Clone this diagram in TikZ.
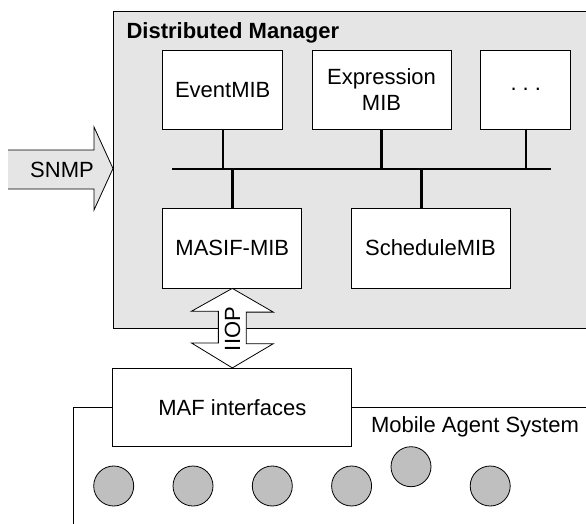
\documentclass[tikz,border=0pt]{standalone}
\usepackage{fontspec}
\setmainfont{Liberation Sans}
\usetikzlibrary{positioning, calc}

\definecolor{panelgray}{gray}{0.9}
\definecolor{agentgray}{gray}{0.75}

\begin{document}
\begin{tikzpicture}[x=1pt, y=-1pt,
    every node/.style={font=\fontsize{22}{26}\selectfont},
    mibbox/.style={draw=black, fill=white, line width=0.8pt, inner sep=0pt, align=center, minimum height=79pt},
    agent/.style={circle, draw=black, fill=agentgray, line width=0.8pt, minimum size=40pt, inner sep=0pt},
    busline/.style={line width=2.4pt},
    blockarrow/.style={draw=black, line width=0.8pt, line join=miter}]
        \useasboundingbox (0,0) rectangle (586,524);
        \clip (0,0) rectangle (586,524);

        % Distributed Manager panel (runs off the right edge)
        \node[draw=black, fill=panelgray, line width=0.8pt, inner sep=0pt, anchor=north west,
              minimum width=500pt, minimum height=317pt] (dm) at (113,11) {};
        \node[anchor=base west, font=\fontsize{22}{26}\selectfont\bfseries] (dmtitle) at (123,39) {Distributed Manager};

        % SNMP arrow into the panel
        \coordinate (snmptip) at (dm.west |- 0,168.5);
        \fill[panelgray] (8,150) -- (94,150) -- (94,127) -- (snmptip) -- (94,210) -- (94,189) -- (8,189) -- cycle;
        \draw[blockarrow] (8,150) -- (94,150) -- (94,127) -- (snmptip) -- (94,210) -- (94,189) -- (8,189);
        \node (snmp) at (62,169.5) {SNMP};

        % MIBs
        \node[mibbox, minimum width=120pt] (event) at (222.7,89.7) {EventMIB};
        \node[mibbox, minimum width=139pt] (expr) at (381.5,89.7) {Expression\\MIB};
        \node[mibbox, minimum width=90pt] (more) at (525.8,89.7) {.\ .\ .};
        \node[mibbox, minimum width=139pt, minimum height=80pt] (masif) at (232.3,248) {MASIF-MIB};
        \node[mibbox, minimum width=159pt, minimum height=80pt] (sched) at (430.5,248) {ScheduleMIB};

        % Bus between the MIBs
        \coordinate (busw) at (172,169);
        \coordinate (buse) at (550.5,169);
        \draw[busline] (busw) -- (buse);
        \draw[busline] (event.south) -- (event.south |- busw);
        \draw[busline] (expr.south) -- (expr.south |- busw);
        \draw[busline] (more.south) -- (more.south |- busw);
        \draw[busline] (masif.north) -- (masif.north |- busw);
        \draw[busline] ([xshift=-9pt]sched.north) -- ([xshift=-9pt]sched.north |- busw);

        % Mobile Agent System
        \node[mibbox, minimum width=239pt, minimum height=78.4pt] (maf) at (232.35,407.5) {MAF interfaces};
        \draw[line width=0.8pt] (maf.west) -- (73.4,407.5) -- (73.4,530);
        \draw[line width=0.8pt] (maf.east) -- ++(260,0);
        \node (mas) at (475,426.7) {Mobile Agent System};
        \foreach \i/\x/\y in {1/113.7/486, 2/193/486, 3/272.3/486, 4/351.6/486, 5/411/466.7, 6/490.2/486}
            \node[agent] (agent\i) at (\x,\y) {};

        % IIOP double arrow
        \draw[blockarrow, fill=white] (masif.south) -- ++(41,23.7) -- ++(-27,0) -- ++(0,31.6) -- ++(27,0)
            -- (maf.north) -- ++(-41,-25) -- ++(27,0) -- ++(0,-31.6) -- ++(-27,0) -- cycle;
        \node[rotate=90] (iiop) at (232.5,329) {IIOP};
\end{tikzpicture}
\end{document}
